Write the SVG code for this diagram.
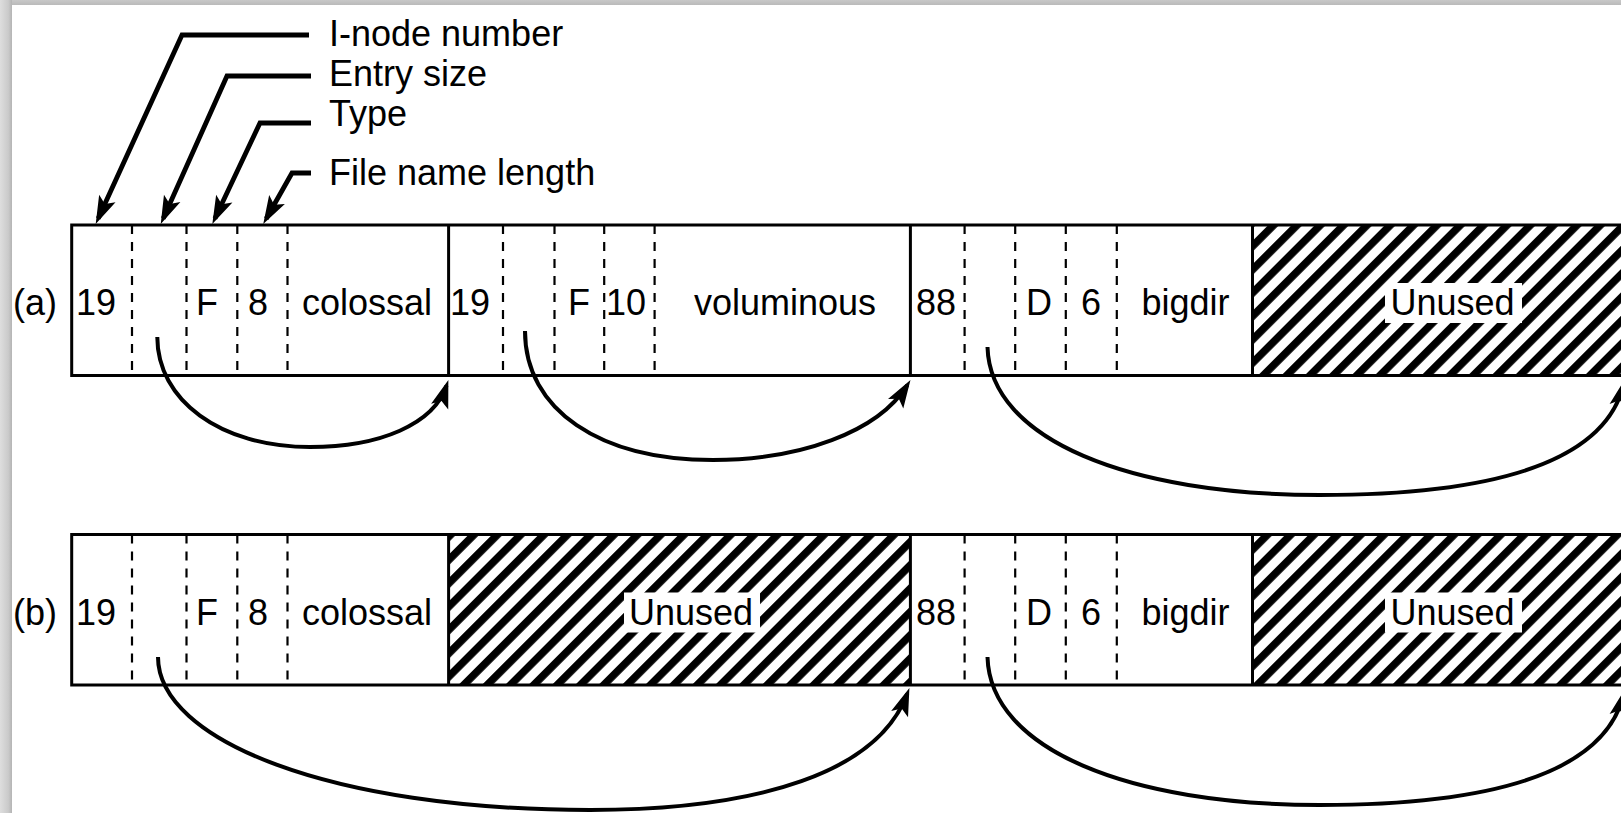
<svg xmlns="http://www.w3.org/2000/svg" width="1621" height="813" viewBox="0 0 1621 813">
<style>
  text { font-family: "Liberation Sans", Arial, Helvetica, sans-serif; font-size: 36px; fill: #000; }
  .box { fill: none; stroke: #000; stroke-width: 3; }
  .solid { stroke: #000; stroke-width: 3; }
  .dash { stroke: #000; stroke-width: 2.2; stroke-dasharray: 9 8; }
  .hatch { fill: url(#hatch); stroke: none; }
  .clear { fill: #fff; stroke: none; }
  .leader { fill: none; stroke: #000; stroke-width: 4.8; stroke-linejoin: miter; marker-end: url(#ah); }
  .arc { fill: none; stroke: #000; stroke-width: 4; marker-end: url(#ah); }
</style>
<defs>
  <pattern id="hatch" patternUnits="userSpaceOnUse" width="16.5" height="16.5" patternTransform="rotate(45)">
    <rect width="16.5" height="16.5" fill="#fff"/>
    <rect x="0" y="0" width="7.6" height="16.5" fill="#000"/>
  </pattern>
  <marker id="ah" markerUnits="userSpaceOnUse" markerWidth="40" markerHeight="30" refX="0" refY="0" orient="auto" overflow="visible">
    <path d="M6,0 L-22,-9 L-16,0 L-22,9 Z" fill="#000"/>
  </marker>
  <linearGradient id="lg" x1="0" y1="0" x2="1" y2="0">
    <stop offset="0" stop-color="#dedede"/>
    <stop offset="0.7" stop-color="#cacaca"/>
    <stop offset="1" stop-color="#b4b4b4"/>
  </linearGradient>
  <linearGradient id="tg" x1="0" y1="0" x2="0" y2="1">
    <stop offset="0" stop-color="#c8c8c8"/>
    <stop offset="1" stop-color="#bababa"/>
  </linearGradient>
</defs>

<rect x="0" y="0" width="1621" height="813" fill="#fff"/>
<rect x="0" y="0" width="1621" height="5" fill="url(#tg)"/>
<rect x="0" y="0" width="12" height="813" fill="url(#lg)"/>

<g id="labels">
  <text x="329" y="46">I-node number</text>
  <text x="329" y="86">Entry size</text>
  <text x="329" y="126">Type</text>
  <text x="329" y="185">File name length</text>
</g>

<g id="row-a">
  <text x="13" y="315">(a)</text>
  <g id="a-entry-colossal">
    <line class="dash" x1="132" y1="225" x2="132" y2="375.5"/>
    <line class="dash" x1="186.5" y1="225" x2="186.5" y2="375.5"/>
    <line class="dash" x1="237.3" y1="225" x2="237.3" y2="375.5"/>
    <line class="dash" x1="287.5" y1="225" x2="287.5" y2="375.5"/>
    <text x="76" y="315">19</text>
    <text x="196" y="315">F</text>
    <text x="248" y="315">8</text>
    <text x="302" y="315">colossal</text>
  </g>
  <g id="a-entry-voluminous">
    <line class="solid" x1="448.6" y1="225" x2="448.6" y2="375.5"/>
    <line class="dash" x1="503" y1="225" x2="503" y2="375.5"/>
    <line class="dash" x1="554.5" y1="225" x2="554.5" y2="375.5"/>
    <line class="dash" x1="604.2" y1="225" x2="604.2" y2="375.5"/>
    <line class="dash" x1="654.6" y1="225" x2="654.6" y2="375.5"/>
    <text x="450" y="315">19</text>
    <text x="568" y="315">F</text>
    <text x="606" y="315">10</text>
    <text x="694" y="315">voluminous</text>
  </g>
  <g id="a-entry-bigdir">
    <line class="solid" x1="910.4" y1="225" x2="910.4" y2="375.5"/>
    <line class="dash" x1="964.6" y1="225" x2="964.6" y2="375.5"/>
    <line class="dash" x1="1015.2" y1="225" x2="1015.2" y2="375.5"/>
    <line class="dash" x1="1065.8" y1="225" x2="1065.8" y2="375.5"/>
    <line class="dash" x1="1116.8" y1="225" x2="1116.8" y2="375.5"/>
    <text x="916" y="315">88</text>
    <text x="1026" y="315">D</text>
    <text x="1081" y="315">6</text>
    <text x="1141.5" y="315">bigdir</text>
  </g>
  <g id="a-unused">
    <rect class="hatch" x="1252.5" y="225" width="400" height="150.5"/>
    <line class="solid" x1="1252.5" y1="225" x2="1252.5" y2="375.5"/>
    <rect class="clear" x="1385" y="283" width="137" height="40"/>
    <text x="1390.5" y="315">Unused</text>
  </g>
  <rect class="box" x="71.7" y="225" width="1600" height="150.5"/>
</g>

<g id="row-b">
  <text x="13" y="624.5">(b)</text>
  <g id="b-entry-colossal">
    <line class="dash" x1="132" y1="534.5" x2="132" y2="685"/>
    <line class="dash" x1="186.5" y1="534.5" x2="186.5" y2="685"/>
    <line class="dash" x1="237.3" y1="534.5" x2="237.3" y2="685"/>
    <line class="dash" x1="287.5" y1="534.5" x2="287.5" y2="685"/>
    <text x="76" y="624.5">19</text>
    <text x="196" y="624.5">F</text>
    <text x="248" y="624.5">8</text>
    <text x="302" y="624.5">colossal</text>
  </g>
  <g id="b-unused-1">
    <rect class="hatch" x="448.6" y="534.5" width="461.8" height="150.5"/>
    <line class="solid" x1="448.6" y1="534.5" x2="448.6" y2="685"/>
    <rect class="clear" x="624" y="592.5" width="136" height="40"/>
    <text x="629" y="624.5">Unused</text>
  </g>
  <g id="b-entry-bigdir">
    <line class="solid" x1="910.4" y1="534.5" x2="910.4" y2="685"/>
    <line class="dash" x1="964.6" y1="534.5" x2="964.6" y2="685"/>
    <line class="dash" x1="1015.2" y1="534.5" x2="1015.2" y2="685"/>
    <line class="dash" x1="1065.8" y1="534.5" x2="1065.8" y2="685"/>
    <line class="dash" x1="1116.8" y1="534.5" x2="1116.8" y2="685"/>
    <text x="916" y="624.5">88</text>
    <text x="1026" y="624.5">D</text>
    <text x="1081" y="624.5">6</text>
    <text x="1141.5" y="624.5">bigdir</text>
  </g>
  <g id="b-unused-2">
    <rect class="hatch" x="1252.5" y="534.5" width="400" height="150.5"/>
    <line class="solid" x1="1252.5" y1="534.5" x2="1252.5" y2="685"/>
    <rect class="clear" x="1385" y="592.5" width="137" height="40"/>
    <text x="1390.5" y="624.5">Unused</text>
  </g>
  <rect class="box" x="71.7" y="534.5" width="1600" height="150.5"/>
</g>

<g id="connectors">
  <path class="leader" d="M309,35 L182,35 L98.2,218.5"/>
  <path class="leader" d="M311,76 L227,76 L163.2,218.5"/>
  <path class="leader" d="M311,123 L260,123 L214.9,218.6"/>
  <path class="leader" d="M311,173 L292,173 L266.2,218.7"/>
  <path class="arc" d="M157.3,337 C157.3,400 220,447 310,447 C380,447 434,424 446.5,385.7"/>
  <path class="arc" d="M525,331 C525,410 600,460 713,460 C800,460 878,432 907.3,385.1"/>
  <path class="arc" d="M987.5,347 C990,440 1130,495 1320,495 C1500,495 1605,460 1623.6,384.8"/>
  <path class="arc" d="M158,657 C158,740 330,810 590,810 C760,810 878,772 907.3,693.6"/>
  <path class="arc" d="M987.5,657 C990,750 1130,805 1320,805 C1500,805 1605,770 1623.6,694.8"/>
</g>
</svg>
